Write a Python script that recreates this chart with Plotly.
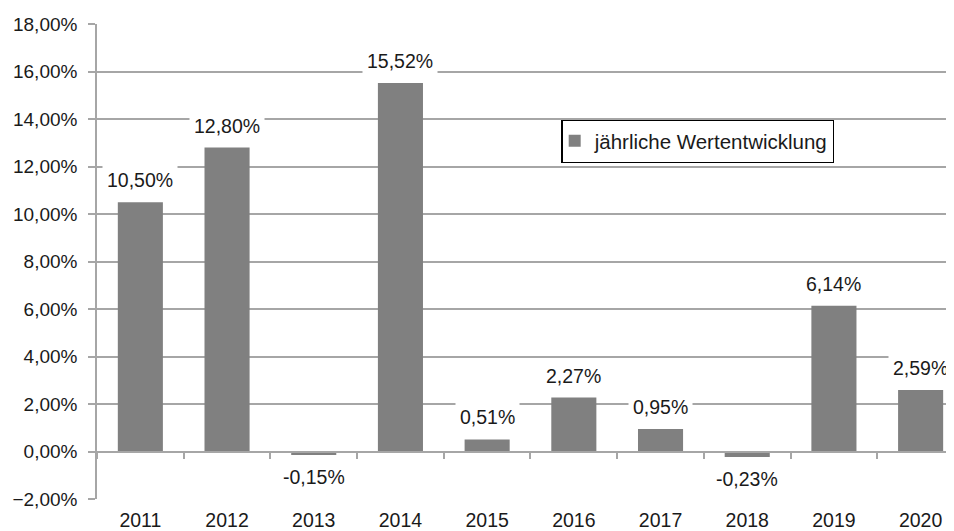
import plotly.graph_objects as go

years = ["2011", "2012", "2013", "2014", "2015", "2016", "2017", "2018", "2019", "2020"]
values = [10.50, 12.80, -0.15, 15.52, 0.51, 2.27, 0.95, -0.23, 6.14, 2.59]
series_name = "jährliche Wertentwicklung"

FONT = "Liberation Sans, Arial, sans-serif"
TXT = "#1a1a1a"
GRID = "#a6a6a6"
BAR = "#808080"

fig = go.Figure()
fig.add_trace(go.Bar(
    x=years, y=values, name=series_name,
    marker=dict(color=BAR, line=dict(width=0)),
    width=0.52, hoverinfo="skip", showlegend=True,
))
# invisible helper trace for the category axis drawn at y = 0
fig.add_trace(go.Scatter(
    x=years, y=[0] * len(years), xaxis="x2", mode="markers",
    marker=dict(opacity=0), hoverinfo="skip", showlegend=False,
))

def fmt(v):
    return f"{v:.2f}".replace(".", ",") + "%"

annotations = []
for i, v in enumerate(values):
    annotations.append(dict(
        x=i, y=v, xref="x", yref="y", text=fmt(v), showarrow=False,
        yshift=22 if v >= 0 else -22, bgcolor="white", borderpad=4,
        font=dict(family=FONT, size=19.5, color=TXT),
    ))

xr = [-0.5, 9.385]
fig.update_layout(
    width=946, height=523,
    margin=dict(l=89, r=0, t=16, b=32, autoexpand=False),
    paper_bgcolor="white", plot_bgcolor="white",
    separators=",.",
    font=dict(family=FONT, size=19, color=TXT),
    xaxis=dict(
        type="category", range=xr, showgrid=False, zeroline=False,
        showline=False, ticks="", tickfont=dict(size=19.5, color=TXT),
        ticklabelstandoff=7, fixedrange=True, automargin=False,
    ),
    xaxis2=dict(
        type="category", range=xr, overlaying="x", anchor="free",
        position=0.1, showgrid=False, zeroline=False, showline=True,
        linecolor=GRID, linewidth=1.5, ticks="outside", tickson="boundaries",
        ticklen=7, tickcolor=GRID, tickwidth=1.5, showticklabels=False,
        categoryorder="array", categoryarray=years,
    ),
    yaxis=dict(
        range=[-2, 18], dtick=2, tick0=0, tickformat=".2f", ticksuffix="%",
        showgrid=True, gridcolor=GRID, gridwidth=1.5, zeroline=False,
        showline=True, linecolor=GRID, linewidth=1.5,
        ticks="outside", ticklen=7, tickcolor=GRID, tickwidth=1.5,
        tickfont=dict(size=19, color=TXT), ticklabelstandoff=7,
        fixedrange=True, automargin=False,
    ),
    legend=dict(
        x=0.542, y=0.7985, xanchor="left", yanchor="top",
        bgcolor="white", bordercolor="black", borderwidth=1.2,
        font=dict(family=FONT, size=20.5, color=TXT),
        itemwidth=30, indentation=-8,
    ),
    annotations=annotations,
    showlegend=True,
)

fig.write_html("out.html")
